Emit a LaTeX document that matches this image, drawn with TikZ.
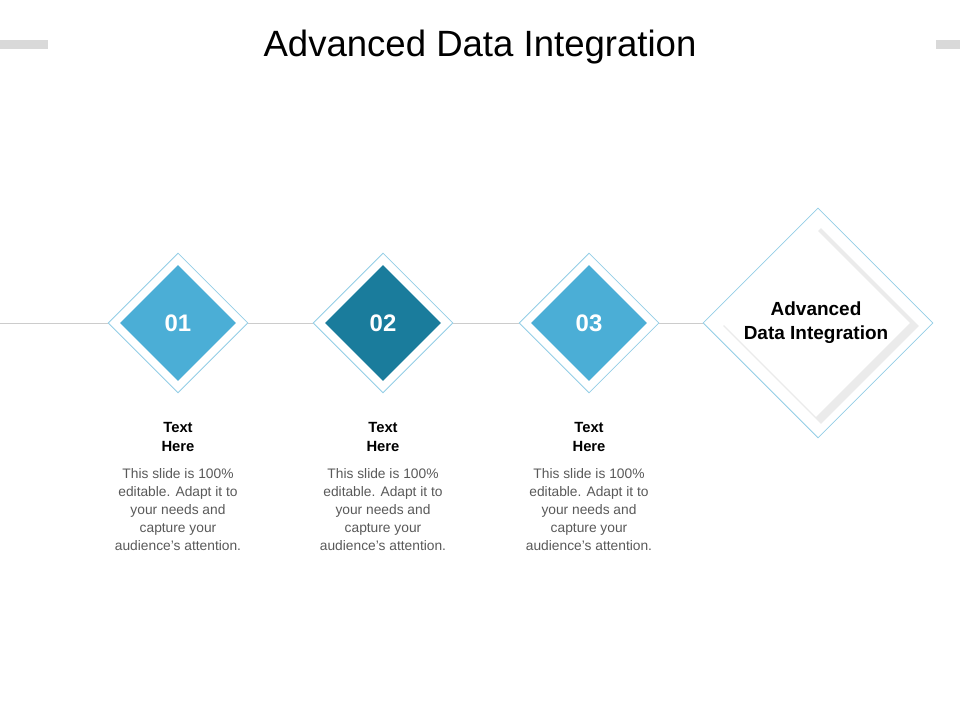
\documentclass[tikz,border=0pt]{standalone}
\usepackage{fontspec}
\setmainfont{Liberation Sans}
\usetikzlibrary{shapes.geometric}
\definecolor{lightblue}{HTML}{4BAED6}
\definecolor{darkblue}{HTML}{1A7C9C}
\definecolor{bodygrey}{HTML}{595959}
\tikzset{
  outerbox/.style={diamond, draw=lightblue!60, line width=0.6pt, fill=white, inner sep=0pt, minimum size=3.5cm},
  innerbox/.style={diamond, inner sep=0pt, minimum size=2.9cm, text=white, font=\fontsize{17}{20}\selectfont\bfseries},
  headtext/.style={align=center, font=\fontsize{10.5}{13.5}\selectfont\bfseries},
  bodytext/.style={align=center, text=bodygrey, font=\fontsize{9.8}{12.8}\selectfont}
}
\begin{document}
\begin{tikzpicture}[x={(0.025cm,0)}, y={(0,-0.025cm)}]
  \useasboundingbox (0,0) rectangle (960,720);
  % grey bars
  \fill[black!15] (0,40) rectangle (48,49);
  \fill[black!15] (936,40) rectangle (960,49);
  \node (title) at (480,47) {\fontsize{26}{30}\selectfont Advanced Data Integration};
  % big diamond
  \node[diamond, draw=lightblue!60, line width=0.6pt, fill=white, inner sep=0pt, minimum size=5.75cm] (big) at (818,323) {};
  \node[diamond, fill=black!8, inner sep=0pt, minimum size=4.9cm] (bigshade) at (821,326) {};
  \node[diamond, fill=white, inner sep=0pt, minimum size=4.7cm, align=center,
        font=\fontsize{13.5}{17}\selectfont\bfseries] (bigin) at (816,323) {Advanced\\Data Integration};
  % small diamonds
  \foreach \n/\x/\c in {1/178/lightblue, 2/383/darkblue, 3/589/lightblue} {
    \node[outerbox] (out\n) at (\x,323) {};
    \node[innerbox, fill=\c] (in\n) at (\x,323) {0\n};
    \node[headtext] (head\n) at (\x,437) {Text\\Here};
    \node[bodytext] (body\n) at (\x,510) {This slide is 100\%\\editable. Adapt it to\\your needs and\\capture your\\audience's attention.};
  }
  \coordinate (start) at (0,323);
  \draw[black!20] (start) -- (out1.west);
  \draw[black!20] (out1.east) -- (out2.west);
  \draw[black!20] (out2.east) -- (out3.west);
  \draw[black!20] (out3.east) -- (big.west);
\end{tikzpicture}
\end{document}
